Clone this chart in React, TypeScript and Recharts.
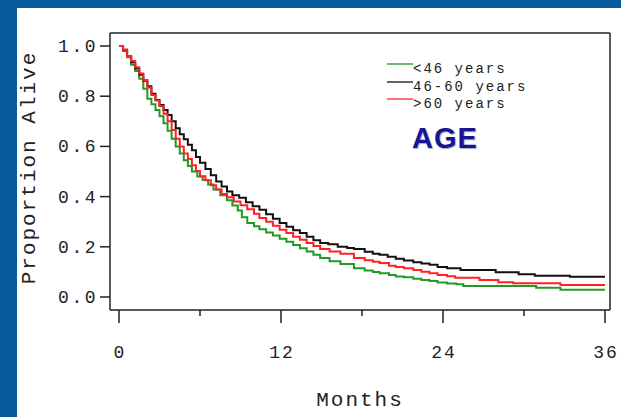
import React from 'react';
import { LineChart, Line, XAxis, YAxis, CartesianGrid } from 'recharts';

// Kaplan-Meier steps: [month, proportion alive]
const under46: [number, number][] = [
    [0, 1], [0.3, 0.98], [0.6, 0.955], [0.9, 0.925], [1.2, 0.9], [1.5, 0.87], [1.8, 0.83],
    [2.1, 0.79], [2.4, 0.768], [2.7, 0.745], [3.0, 0.72], [3.3, 0.692], [3.6, 0.662],
    [3.9, 0.63], [4.2, 0.6], [4.5, 0.572], [4.8, 0.545], [5.1, 0.522], [5.4, 0.5],
    [5.8, 0.48], [6.2, 0.466], [6.6, 0.448], [7.0, 0.428], [7.5, 0.405], [8.0, 0.385],
    [8.4, 0.365], [8.8, 0.345], [9.1, 0.318], [9.5, 0.295], [10.0, 0.282], [10.4, 0.27],
    [10.9, 0.257], [11.4, 0.245], [11.9, 0.232], [12.4, 0.22], [12.9, 0.207], [13.4, 0.194],
    [13.9, 0.181], [14.4, 0.168], [14.9, 0.155], [15.6, 0.142], [16.4, 0.131], [17.4, 0.115],
    [18.2, 0.106], [18.8, 0.1], [19.3, 0.095], [20.0, 0.088], [20.5, 0.082], [21.1, 0.079],
    [21.8, 0.073], [22.4, 0.068], [23.0, 0.064], [23.6, 0.058], [24.3, 0.054], [25.0, 0.051],
    [25.5, 0.044], [30.9, 0.037], [32.7, 0.029], [36, 0.029],
];

const age46to60: [number, number][] = [
    [0, 1], [0.3, 0.985], [0.6, 0.96], [0.9, 0.935], [1.2, 0.91], [1.5, 0.885], [1.8, 0.862],
    [2.1, 0.84], [2.4, 0.81], [2.7, 0.785], [3.0, 0.765], [3.3, 0.745], [3.6, 0.725],
    [3.9, 0.7], [4.2, 0.672], [4.5, 0.648], [4.8, 0.628], [5.1, 0.607], [5.4, 0.585],
    [5.7, 0.558], [6.0, 0.535], [6.4, 0.51], [6.8, 0.485], [7.2, 0.46], [7.6, 0.44],
    [8.0, 0.42], [8.4, 0.405], [8.9, 0.395], [9.4, 0.377], [9.9, 0.362], [10.4, 0.348],
    [10.9, 0.33], [11.4, 0.312], [11.9, 0.295], [12.4, 0.28], [12.9, 0.266], [13.4, 0.255],
    [13.9, 0.24], [14.4, 0.226], [14.9, 0.215], [15.5, 0.21], [16.2, 0.2], [16.9, 0.195],
    [17.4, 0.191], [18.2, 0.18], [18.8, 0.172], [19.3, 0.168], [19.9, 0.16], [20.5, 0.152],
    [21.1, 0.145], [21.8, 0.138], [22.4, 0.133], [23.0, 0.128], [23.6, 0.12], [24.3, 0.115],
    [25.3, 0.108], [27.9, 0.099], [29.6, 0.091], [30.8, 0.085], [33.4, 0.081], [36, 0.081],
];

const over60: [number, number][] = [
    [0, 1], [0.3, 0.985], [0.6, 0.96], [0.9, 0.94], [1.2, 0.915], [1.5, 0.89], [1.8, 0.865],
    [2.1, 0.835], [2.4, 0.805], [2.7, 0.783], [3.0, 0.76], [3.3, 0.73], [3.6, 0.7],
    [3.9, 0.665], [4.2, 0.63], [4.5, 0.6], [4.8, 0.572], [5.1, 0.55], [5.4, 0.525],
    [5.7, 0.502], [6.0, 0.481], [6.4, 0.465], [6.8, 0.445], [7.2, 0.428], [7.6, 0.41],
    [8.0, 0.397], [8.5, 0.38], [9.0, 0.366], [9.5, 0.35], [10.0, 0.332], [10.4, 0.315],
    [10.9, 0.3], [11.4, 0.284], [11.9, 0.268], [12.4, 0.255], [12.9, 0.24], [13.4, 0.228],
    [13.9, 0.215], [14.4, 0.203], [14.9, 0.191], [15.6, 0.181], [16.4, 0.172], [17.4, 0.155],
    [18.2, 0.146], [18.8, 0.14], [19.3, 0.135], [20.0, 0.125], [20.5, 0.12], [21.1, 0.115],
    [21.8, 0.108], [22.4, 0.101], [23.0, 0.095], [23.6, 0.088], [24.3, 0.083], [24.9, 0.077],
    [26.7, 0.068], [28.1, 0.059], [29.2, 0.055], [32.7, 0.048], [36, 0.048],
];

const seriesNames = ['<46 years', '46-60 years', '>60 years'];
const seriesColors = ['#229922', '#111111', '#ff2222'];

const xTicks = [0, 6, 12, 18, 24, 30, 36];
const xLabelled = [0, 12, 24, 36];
const yTicks = [0, 0.2, 0.4, 0.6, 0.8, 1.0];

const mono = '"Liberation Mono", "Courier New", monospace';
const ink = '#222';

const toRows = (pts: [number, number][]) => pts.map(([month, p]) => ({ month, p }));

const MonthTick = (props: any) => {
    const { x, y, payload } = props;
    const major = xLabelled.includes(payload.value);
    return (
        <g>
            <line x1={x} x2={x} y1={y} y2={y + (major ? 13 : 6)} stroke={ink} strokeWidth={1.5} />
            {major && (
                <text x={x + 1} y={y + 43} textAnchor="middle" dominantBaseline="central"
                    fontFamily={mono} fontSize={18} letterSpacing={2} fill={ink}>
                    {payload.value}
                </text>
            )}
        </g>
    );
};

const PropTick = (props: any) => {
    const { x, y, payload } = props;
    return (
        <text x={x + 2} y={y + 1} textAnchor="end" dominantBaseline="central"
            fontFamily={mono} fontSize={18} letterSpacing={2.5} fill={ink}>
            {payload.value.toFixed(1)}
        </text>
    );
};

const AgeLegend = () => (
    <div style={{ position: 'absolute', left: 387, top: 61, fontFamily: mono, fontSize: 14, color: ink }}>
        {seriesNames.map((name, i) => (
            <div key={name} style={{ display: 'flex', alignItems: 'flex-start', height: 17.5 }}>
                <svg width={26} height={17}>
                    <line x1={0} x2={26} y1={3} y2={3} stroke={seriesColors[i]} strokeWidth={1.3} />
                </svg>
                <span style={{ lineHeight: '17.5px', letterSpacing: 2 }}>{name}</span>
            </div>
        ))}
        <div style={{
            marginTop: 10, marginLeft: 25, fontFamily: '"Liberation Sans", Arial, sans-serif',
            fontWeight: 'bold', fontSize: 29, lineHeight: '29px', letterSpacing: 1,
            color: '#161694', textShadow: '1px 1px 1px rgba(0,0,90,0.35)',
        }}>
            AGE
        </div>
    </div>
);

const App: React.FC = () => {
    const series = [under46, age46to60, over60];
    return (
        <div style={{ position: 'fixed', left: 0, top: 0, width: 621, height: 417, background: '#0a5a9e', overflow: 'hidden' }}>
            <div style={{ position: 'absolute', left: 17, top: 8, right: 0, bottom: 0, background: '#fff' }} />
            <div style={{ position: 'absolute', left: 0, top: 0 }}>
                <LineChart width={621} height={417} margin={{ top: 33, right: 11, bottom: 0, left: 0 }}>
                    <CartesianGrid
                        xAxisId="b"
                        yAxisId="l"
                        stroke={ink}
                        strokeWidth={1.5}
                        horizontalCoordinatesGenerator={({ offset }: any) => [offset.top]}
                        verticalCoordinatesGenerator={({ offset }: any) => [offset.left + offset.width]}
                    />
                    <XAxis
                        xAxisId="b"
                        dataKey="month"
                        type="number"
                        domain={[0, 36]}
                        ticks={xTicks}
                        interval={0}
                        padding={{ left: 9, right: 5 }}
                        height={107}
                        tickSize={0}
                        tickMargin={0}
                        tickLine={false}
                        tick={<MonthTick />}
                        axisLine={{ stroke: ink, strokeWidth: 1.5 }}
                        label={{
                            content: (p: any) => {
                                const vb = p.viewBox;
                                return (
                                    <text x={vb.x + vb.width / 2} y={vb.y + 90} textAnchor="middle"
                                        dominantBaseline="central" fontFamily={mono} fontSize={21}
                                        letterSpacing={2} fill={ink}>Months</text>
                                );
                            },
                        }}
                    />
                    <YAxis
                        yAxisId="l"
                        type="number"
                        domain={[0, 1]}
                        ticks={yTicks}
                        interval={0}
                        padding={{ top: 13, bottom: 13 }}
                        width={110}
                        tickSize={10}
                        tickMargin={4}
                        tick={<PropTick />}
                        tickLine={{ stroke: ink, strokeWidth: 1.5 }}
                        axisLine={{ stroke: ink, strokeWidth: 1.5 }}
                        label={{
                            content: (p: any) => {
                                const vb = p.viewBox;
                                const cx = vb.x + 29;
                                const cy = vb.y + vb.height / 2 - 4;
                                return (
                                    <text x={cx} y={cy} transform={`rotate(-90, ${cx}, ${cy})`}
                                        textAnchor="middle" dominantBaseline="central" fontFamily={mono}
                                        fontSize={21} letterSpacing={2} fill={ink}>Proportion Alive</text>
                                );
                            },
                        }}
                    />
                    {series.map((pts, i) => (
                        <Line
                            key={seriesNames[i]}
                            xAxisId="b"
                            yAxisId="l"
                            data={toRows(pts)}
                            dataKey="p"
                            name={seriesNames[i]}
                            type="stepAfter"
                            stroke={seriesColors[i]}
                            strokeWidth={2}
                            dot={false}
                            activeDot={false}
                            isAnimationActive={false}
                        />
                    ))}
                </LineChart>
            </div>
            <AgeLegend />
        </div>
    );
};

export default App;
